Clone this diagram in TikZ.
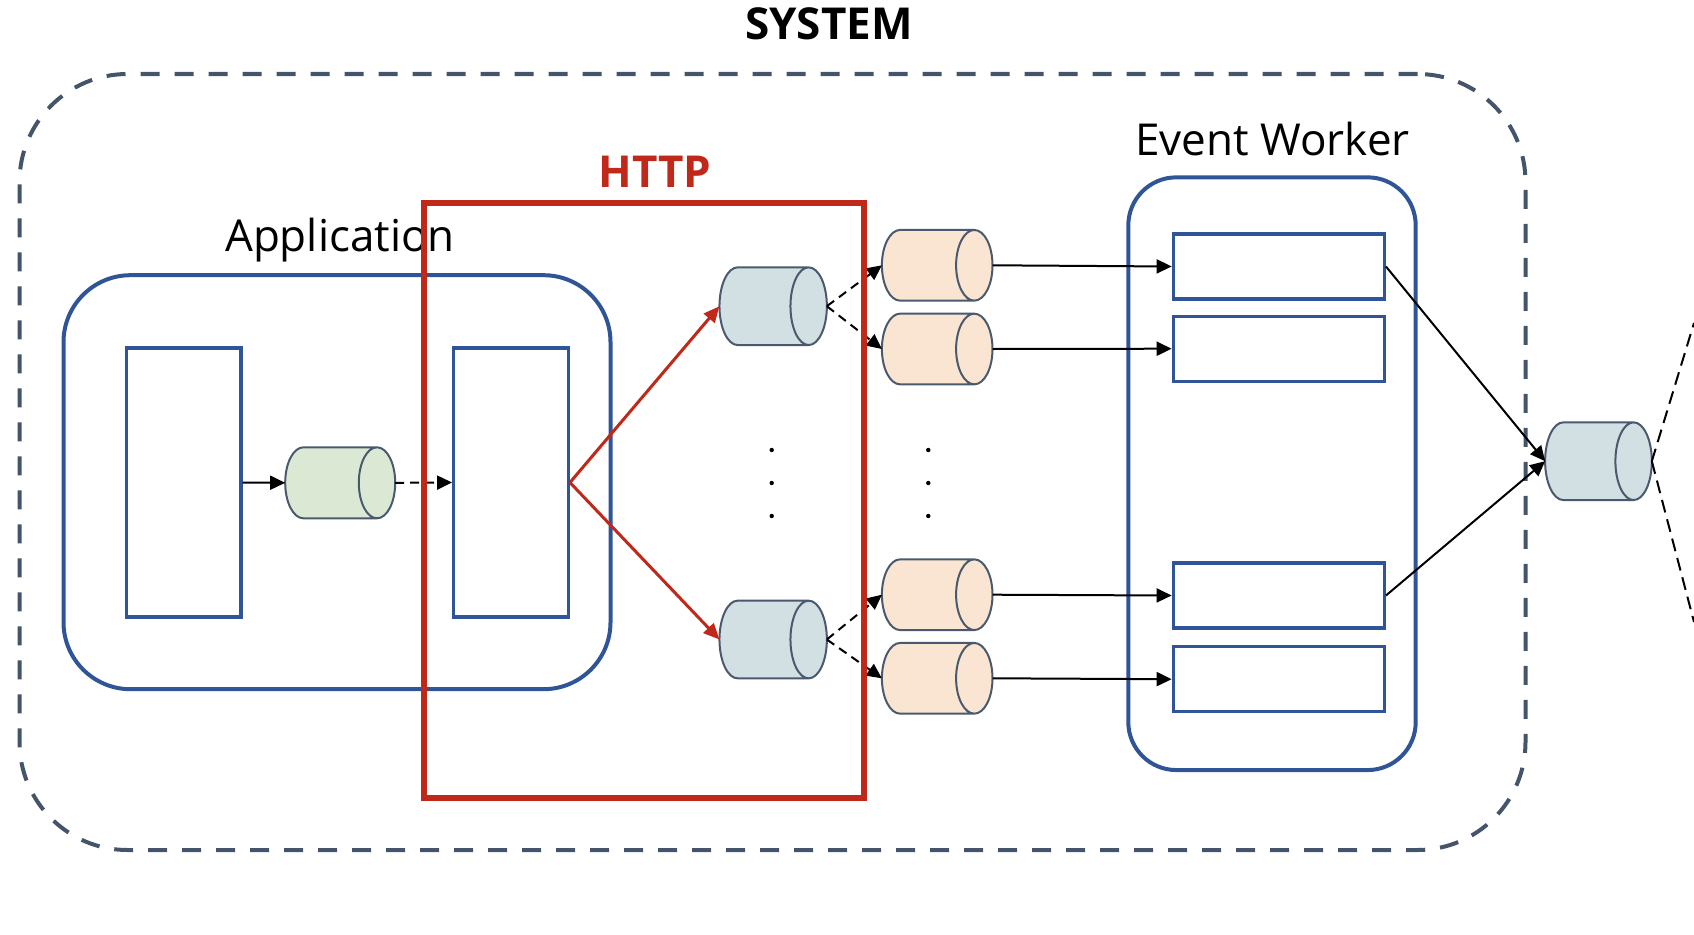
\documentclass[tikz,border=0pt]{standalone}
\usepackage{fontspec}
\setmainfont{Open Sans}
\usepackage{tikz}
\usetikzlibrary{arrows.meta, positioning, shapes.geometric}
\definecolor{frame}{RGB}{68,84,106}
\definecolor{boxblue}{RGB}{47,85,151}
\definecolor{httpred}{RGB}{192,41,26}
\definecolor{cylline}{RGB}{74,90,110}
\definecolor{queueblue}{RGB}{210,223,227}
\definecolor{queuegreen}{RGB}{219,233,212}
\definecolor{queuepeach}{RGB}{250,229,210}

\tikzset{
  container/.style={draw=boxblue, line width=4pt, rounded corners=#1, inner sep=0pt},
  worker/.style={draw=boxblue, line width=3.3pt, inner sep=0pt},
  % cylinder sizes: minimum height = length along the axis, minimum width = diameter
  queue/.style={cylinder, shape aspect=0.52, draw=cylline, line width=2pt, fill=#1,
    inner xsep=0pt, inner ysep=35pt, outer sep=0pt},
  link/.style={line width=2pt, -{Triangle[length=15pt,width=14pt]}},
  dashlink/.style={link, dash pattern=on 9pt off 6pt},
  redlink/.style={httpred, line width=3pt, -{Triangle[length=16pt,width=14pt]}},
  label/.style={font=\fontsize{44}{50}\selectfont, anchor=base, inner sep=0pt},
}

\begin{document}
\begin{tikzpicture}[x=1pt, y=-1pt]
  \useasboundingbox (0,0) rectangle (1694,934);
  % System frame
  \node[draw=frame, line width=4pt, dash pattern=on 19pt off 15pt, rounded corners=108pt,
    minimum width=1506pt, minimum height=776pt] (system) at (772.5,462) {};
  \node[label, font=\fontsize{44}{50}\selectfont\bfseries] (systemlabel) at (829,39.3) {SYSTEM};

  % Application
  \node[container=67pt, minimum width=547pt, minimum height=414pt] (app) at (337,482.2) {};
  \node[label] (applabel) at (340,251.7) {Application};
  \node[worker, minimum width=114.6pt, minimum height=269pt] (in1) at (183.7,482.5) {};
  \node[worker, minimum width=114.6pt, minimum height=269pt] (in2) at (511,482.5) {};
  \node[queue=queuegreen, minimum height=110pt, minimum width=71pt] (greenq) at (321.5,482.8) {};

  % HTTP queues
  \node[queue=queueblue, minimum height=107.4pt, minimum width=77.7pt] (bq1) at (754.5,306.2) {};
  \node[queue=queueblue, minimum height=107.4pt, minimum width=77.7pt] (bq2) at (754.5,639.5) {};
  \foreach \n/\y in {1/265.3, 2/349, 3/594.7, 4/678.3}
    \node[queue=queuepeach, minimum height=110.6pt, minimum width=70.7pt] (pq\n) at (918.5,\y) {};
  \foreach \x in {771.7, 928.3}
    \foreach \y in {450, 483, 516}
      \fill (\x,\y) circle (2.2pt);

  % Event Worker
  \node[container=48pt, minimum width=287.4pt, minimum height=592.7pt] (event) at (1272,473.7) {};
  \node[label] (eventlabel) at (1272.5,155) {Event Worker};
  \foreach \n/\y in {1/266.5, 2/348.7, 3/595.5, 4/679.2}
    \node[worker, minimum width=211pt, minimum height=65pt] (wr\n) at (1278.8,\y) {};
  \node[queue=queueblue, minimum height=106.7pt, minimum width=77.7pt] (outq) at (1579.8,461.2) {};
  \coordinate (outtop) at (1694,323);
  \coordinate (outbot) at (1694,622);

  % Connectors
  \draw[link] (in1.east) -- (greenq.west);
  \draw[dashlink] (greenq.east) -- (in2.west);
  \draw[redlink] (in2.east) -- (bq1.west);
  \draw[redlink] (in2.east) -- (bq2.west);
  \draw[dashlink] (bq1.east) -- (pq1.west);
  \draw[dashlink] (bq1.east) -- (pq2.west);
  \draw[dashlink] (bq2.east) -- (pq3.west);
  \draw[dashlink] (bq2.east) -- (pq4.west);
  \foreach \n in {1,...,4}
    \draw[link] (pq\n.east) -- (wr\n.west);
  \draw[link] (wr1.east) -- (outq.west);
  \draw[link] (wr3.east) -- (outq.west);
  \draw[line width=2pt, dash pattern=on 13pt off 7pt] (outq.east) -- (outtop);
  \draw[line width=2pt, dash pattern=on 13pt off 7pt] (outq.east) -- (outbot);

  % HTTP box
  \node[draw=httpred, line width=6pt, minimum width=439.7pt, minimum height=595.4pt] (http) at (644.2,500.7) {};
  \node[label, text=httpred, font=\fontsize{44}{50}\selectfont\bfseries] (httplabel) at (655,187.3) {HTTP};
\end{tikzpicture}
\end{document}
